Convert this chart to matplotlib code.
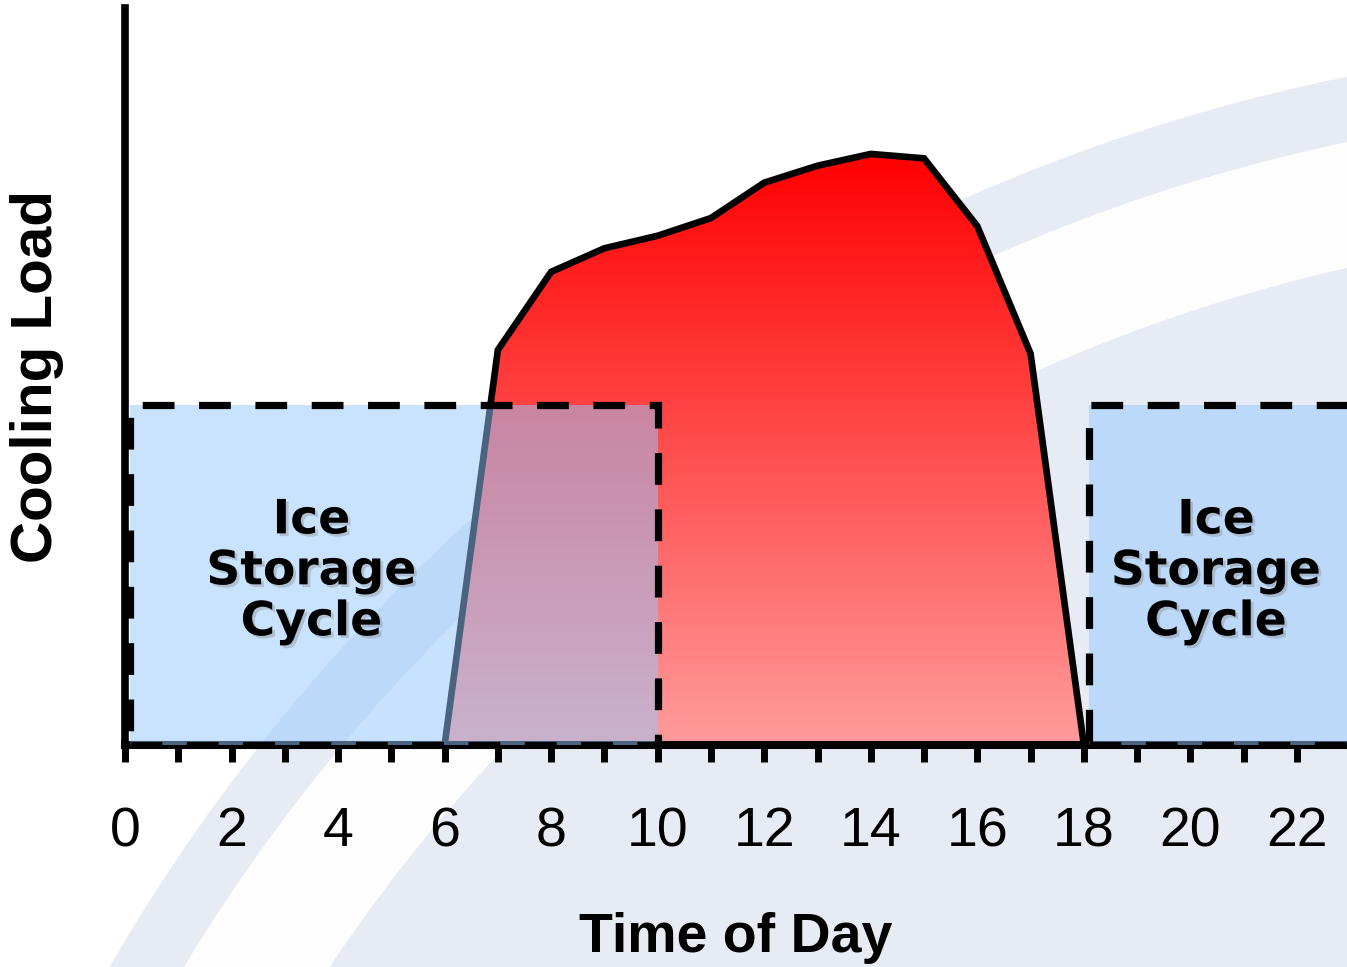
import matplotlib
matplotlib.use('Agg')
import numpy as np
import matplotlib.pyplot as plt
from matplotlib.patches import Polygon, Rectangle, Circle
from matplotlib.colors import LinearSegmentedColormap
import matplotlib.patheffects as pe

# data (cooling load as % of axis height)
hours = [6, 7, 8, 9, 10, 11, 12, 13, 14, 15, 16, 17, 18]
load = [0, 53.6, 64.2, 67.4, 69.1, 71.5, 76.3, 78.6, 80.2, 79.6, 70.4, 53.1, 0]
ice_start = [0.1, 18.1]
ice_end = [10, 24]
ice_level = 46.1
ice_label_x = [3.5, 20.48]
tick_hours = list(range(0, 23))
label_hours = list(range(0, 23, 2))

fig = plt.figure(figsize=(13.47, 9.67), dpi=100)
fig.patch.set_facecolor('white')

# background swoosh (concentric arcs, figure inches)
for r, c in [(18.52, '#e7ebf4'), (17.88, '#fdfdfd'), (16.65, '#e7ebf4')]:
    fig.add_artist(Circle((17.14, -9.25), r, transform=fig.dpi_scale_trans,
                          facecolor=c, edgecolor='none', zorder=0))

ax = fig.add_axes([125/1347, 222/967, 1222/1347, 737/967])
ax.set_facecolor('none')
ax.set_xlim(0, 22.94)
ax.set_ylim(0, 100)

# red cooling load with vertical gradient
poly = Polygon(np.column_stack([hours, load]), closed=True, facecolor='none',
               edgecolor='none')
ax.add_patch(poly)
cmap = LinearSegmentedColormap.from_list('load', ['#ff9c9c', '#ff0000'])
grad = np.linspace(0, 1, 256).reshape(-1, 1)
im = ax.imshow(grad, cmap=cmap, origin='lower', aspect='auto',
               extent=[min(hours), max(hours), 0, max(load)], zorder=1.5)
im.set_clip_path(poly)
ax.plot(hours, load, color='black', lw=4.8, solid_joinstyle='miter', zorder=2)

# ice storage windows
for s, e, lx in zip(ice_start, ice_end, ice_label_x):
    ax.add_patch(Rectangle((s, 0), e - s, ice_level, facecolor='#94c8ff',
                           alpha=0.5, edgecolor='none', zorder=3))
    ax.add_patch(Rectangle((s, 0), e - s, ice_level, facecolor='none',
                           edgecolor='black', lw=5.2, linestyle=(0, (4.4, 3.4)),
                           zorder=3.5))
    ax.text(lx, 23.5, 'Ice\nStorage\nCycle', ha='center', va='center',
            fontsize=34, fontweight='bold', family='DejaVu Sans',
            linespacing=1.17, zorder=4,
            path_effects=[pe.withSimplePatchShadow(offset=(2, -2),
                                                   shadow_rgbFace='gray',
                                                   alpha=0.35)])

# axes styling
for side in ['top', 'right']:
    ax.spines[side].set_visible(False)
ax.spines['left'].set_linewidth(5.5)
ax.spines['bottom'].set_linewidth(5.8)
ax.spines['left'].set_zorder(2.5)
ax.spines['bottom'].set_zorder(2.5)

ax.set_xticks(tick_hours)
ax.set_xticklabels([str(h) if h in label_hours else '' for h in tick_hours],
                   family='Liberation Sans', fontsize=40)
ax.tick_params(axis='x', direction='out', length=12, width=5, pad=32)
ax.set_yticks([])

ax.set_xlabel('Time of Day', family='Liberation Sans', fontweight='bold',
              fontsize=40)
ax.xaxis.set_label_coords(0.5, -0.2266)
ax.set_ylabel('Cooling Load', family='Liberation Sans', fontweight='bold',
              fontsize=42)
ax.yaxis.set_label_coords(-0.05, 0.5)

fig.savefig('out.png', dpi=100)
